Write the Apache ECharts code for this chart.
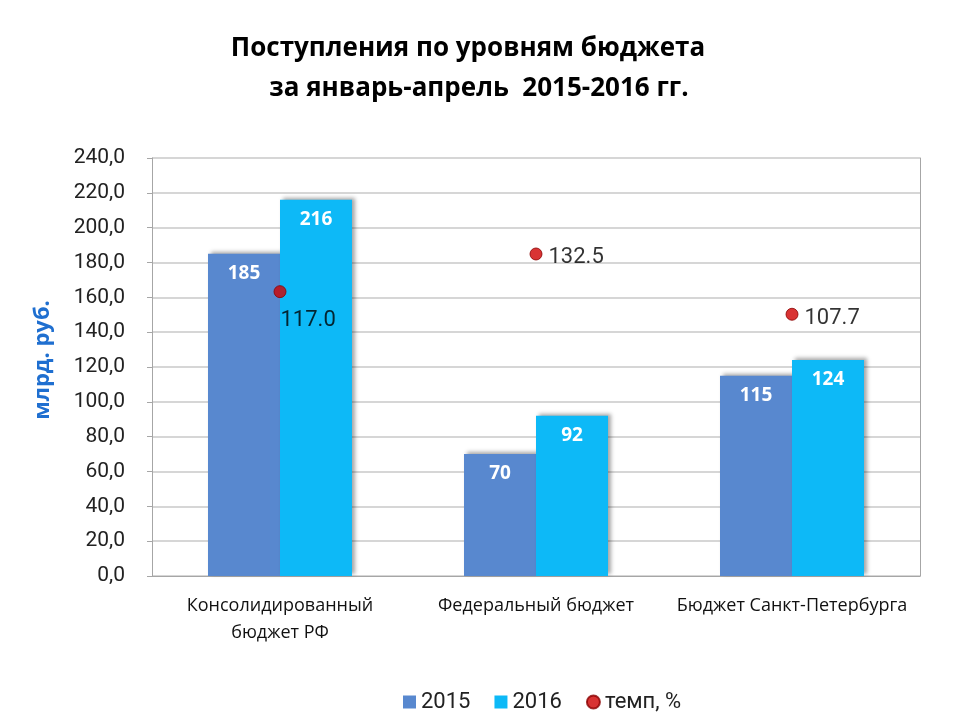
<!DOCTYPE html>
<html>
<head>
<meta charset="utf-8">
<script src="https://cdn.jsdelivr.net/npm/echarts@6/dist/echarts.min.js"></script>
<style>
html, body { margin: 0; padding: 0; background: #fff; }
#chart { width: 960px; height: 720px; }
</style>
</head>
<body>
<div id="chart"></div>
<script>
var categories = ['Консолидированный\nбюджет РФ', 'Федеральный бюджет', 'Бюджет Санкт-Петербурга'];
var values2015 = [185, 70, 115];
var values2016 = [216, 92, 124];
var growthRate = [117.0, 132.5, 107.7];

var chart = echarts.init(document.getElementById('chart'));

var barShadow = {
	shadowColor: 'rgba(0,0,0,0.35)',
	shadowBlur: 4,
	shadowOffsetX: 3,
	shadowOffsetY: -2
};

var option = {
	backgroundColor: '#fff',
	animation: false,
	title: [{
		text: 'Поступления по уровням бюджета',
		left: 463,
		top: 31,
		textAlign: 'center',
		textStyle: { fontFamily: 'Open Sans', fontSize: 26, fontWeight: 'bold', color: '#000' }
	}, {
		text: 'за январь-апрель  2015-2016 гг.',
		left: 474,
		top: 71,
		textAlign: 'center',
		textStyle: { fontFamily: 'Open Sans', fontSize: 26, fontWeight: 'bold', color: '#000' }
	}],
	legend: {
		bottom: 2,
		left: 398,
		itemWidth: 13,
		itemHeight: 13,
		itemGap: 24,
		textStyle: { fontFamily: 'Roboto', fontSize: 22, color: '#222' },
		data: [
			{ name: '2015', icon: 'rect' },
			{ name: '2016', icon: 'rect' },
			{ name: 'темп, %', icon: 'circle' }
		]
	},
	grid: {
		left: 152,
		right: 40,
		top: 158,
		bottom: 144
	},
	xAxis: {
		type: 'category',
		data: categories,
		axisLine: { lineStyle: { color: '#a6a6a6' } },
		axisTick: { show: false },
		axisLabel: {
			margin: 16,
			fontFamily: 'Open Sans',
			fontSize: 18,
			lineHeight: 27,
			color: '#111',
			interval: 0
		}
	},
	yAxis: [{
		type: 'value',
		min: 0,
		max: 240,
		interval: 20,
		name: 'млрд. руб.',
		nameLocation: 'middle',
		nameGap: 98,
		nameTextStyle: {
			fontFamily: 'Open Sans', fontSize: 22, fontWeight: 'bold', color: '#1f6fd0',
			padding: [0, 0, 0, 14]
		},
		axisLine: { show: true, lineStyle: { color: '#a6a6a6' } },
		axisTick: { show: true, length: 5, lineStyle: { color: '#a6a6a6' } },
		splitLine: { lineStyle: { color: '#c8c8c8', width: 1.5 } },
		axisLabel: {
			margin: 27,
			fontFamily: 'Roboto',
			fontSize: 21,
			color: '#222',
			formatter: function (v) { return v.toFixed(1).replace('.', ','); }
		}
	}, {
		type: 'value',
		min: 0,
		max: 172,
		position: 'right',
		axisLine: { show: true, lineStyle: { color: '#a6a6a6' } },
		axisTick: { show: false },
		axisLabel: { show: false },
		splitLine: { show: false }
	}],
	series: [{
		name: '2015',
		type: 'bar',
		data: values2015,
		barWidth: 72,
		barGap: '0%',
		itemStyle: Object.assign({ color: '#5888cf' }, barShadow),
		label: {
			show: true,
			position: 'insideTop',
			distance: 10,
			color: '#fff',
			fontFamily: 'Open Sans',
			fontSize: 19,
			fontWeight: 'bold'
		}
	}, {
		name: '2016',
		type: 'bar',
		data: values2016,
		barWidth: 72,
		itemStyle: Object.assign({ color: '#0db9f7' }, barShadow),
		label: {
			show: true,
			position: 'insideTop',
			distance: 10,
			color: '#fff',
			fontFamily: 'Open Sans',
			fontSize: 19,
			fontWeight: 'bold'
		}
	}, {
		name: 'темп, %',
		type: 'scatter',
		yAxisIndex: 1,
		symbolSize: 12,
		z: 5,
		data: growthRate.map(function (v, i) {
			return {
				value: v,
				label: i === 0 ? { position: [7, 24] } : { position: 'right', distance: 6, offset: [0, 4] }
			};
		}),
		itemStyle: { color: '#d00000', borderColor: '#8a0000', borderWidth: 1 },
		label: {
			show: true,
			fontFamily: 'Roboto',
			fontSize: 22,
			color: '#000',
			formatter: function (p) { return p.value.toFixed(1); }
		}
	}]
};

chart.setOption(option);
</script>
</body>
</html>
